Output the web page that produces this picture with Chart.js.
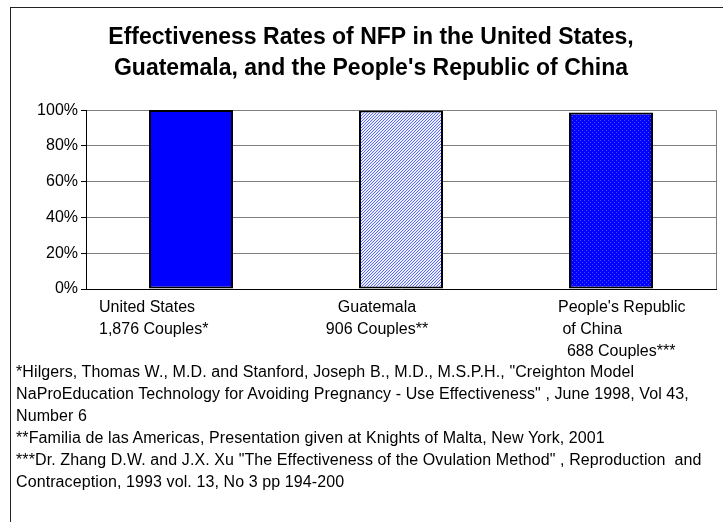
<!DOCTYPE html>
<html>
<head>
<meta charset="utf-8">
<script src="https://cdn.jsdelivr.net/npm/chart.js@4.4.1/dist/chart.umd.min.js"></script>
<style>
  body { margin: 0; width: 723px; height: 522px; overflow: hidden; position: relative; background: #fff; }
  #frame { position: absolute; left: 10px; top: 7px; width: 730px; height: 530px; border: 1px solid #222; }
  #c { position: absolute; left: 0; top: 0; }
  #notes { position: absolute; left: 16px; top: 361px; font: 16px/22px 'Liberation Sans', Arial, sans-serif; letter-spacing: 0.1px; color: #000; white-space: pre; }
</style>
</head>
<body>
<div id="frame"></div>
<canvas id="c" width="723" height="522"></canvas>
<div id="notes"></div>
<script>
// chart data
var titleLines = ['Effectiveness Rates of NFP in the United States,', "Guatemala, and the People's Republic of China"];
var categories = [
    ['United States', '1,876 Couples*'],
    ['Guatemala', '906 Couples**'],
    ["People's Republic", ' of China', '  688 Couples***']
];
var effectiveness = [100, 99.8, 98.6];
var yTicks = [0, 20, 40, 60, 80, 100];
var footnotes = [
    '*Hilgers, Thomas W., M.D. and Stanford, Joseph B., M.D., M.S.P.H., "Creighton Model',
    'NaProEducation Technology for Avoiding Pregnancy - Use Effectiveness" , June 1998, Vol 43,',
    'Number 6',
    '**Familia de las Americas, Presentation given at Knights of Malta, New York, 2001',
    '***Dr. Zhang D.W. and J.X. Xu "The Effectiveness of the Ovulation Method" , Reproduction  and',
    'Contraception, 1993 vol. 13, No 3 pp 194-200'
];

document.getElementById('notes').textContent = footnotes.join('\n');

var FONT = "'Liberation Sans', Arial, sans-serif";

// small fill patterns like the old Excel bars
function makePattern(size, draw) {
    var cv = document.createElement('canvas');
    cv.width = size; cv.height = size;
    var g = cv.getContext('2d');
    draw(g);
    return document.getElementById('c').getContext('2d').createPattern(cv, 'repeat');
}
var hatch = makePattern(3, function (g) {
    g.fillStyle = '#eef0ff'; g.fillRect(0, 0, 3, 3);
    g.fillStyle = '#5566ff';
    g.fillRect(0, 2, 1, 1); g.fillRect(1, 1, 1, 1); g.fillRect(2, 0, 1, 1);
});
var dots = makePattern(4, function (g) {
    g.fillStyle = '#0000ff'; g.fillRect(0, 0, 4, 4);
    g.fillStyle = '#4d4dff';
    g.fillRect(0, 0, 1, 1); g.fillRect(2, 2, 1, 1);
});

// category labels sit a bit off the bar centre, like the original
var labelAlign = ['left', 'center', 'left'];
var labelShift = [-92, -24, -53];

var categoryLabels = {
    id: 'categoryLabels',
    beforeDatasetsDraw: function (chart) {
        var a = chart.chartArea, ctx = chart.ctx;
        ctx.save();
        ctx.strokeStyle = '#808080';
        ctx.lineWidth = 1;
        ctx.beginPath();
        ctx.moveTo(Math.round(a.right) + 0.5, a.top);
        ctx.lineTo(Math.round(a.right) + 0.5, a.bottom);
        ctx.stroke();
        ctx.restore();
    },
    afterDraw: function (chart) {
        var ctx = chart.ctx, x = chart.scales.x, a = chart.chartArea;
        ctx.save();
        ctx.font = '16px ' + FONT;
        ctx.fillStyle = '#000';
        ctx.textBaseline = 'middle';
        categories.forEach(function (lines, i) {
            var px = x.getPixelForValue(i) + labelShift[i];
            ctx.textAlign = labelAlign[i];
            lines.forEach(function (t, j) {
                ctx.fillText(t, px, a.bottom + 19 + j * 22);
            });
        });
        ctx.restore();
    }
};

new Chart(document.getElementById('c'), {
    type: 'bar',
    data: {
        labels: categories.map(function (c) { return c.join(' '); }),
        datasets: [{
            data: effectiveness,
            backgroundColor: ['#0000ff', hatch, dots],
            borderColor: '#000',
            borderWidth: 2,
            borderSkipped: false,
            categoryPercentage: 1,
            barPercentage: 0.4
        }]
    },
    options: {
        responsive: false,
        animation: false,
        layout: { padding: { left: 26, right: 7, top: 0, bottom: 0 } },
        plugins: {
            legend: { display: false },
            tooltip: { enabled: false },
            title: {
                display: true,
                text: titleLines,
                color: '#000',
                font: { family: FONT, size: 23, weight: 'bold', lineHeight: 1.35 },
                padding: { top: 22, bottom: 26 }
            }
        },
        scales: {
            x: {
                grid: { display: false },
                border: { display: true, color: '#000', width: 1 },
                ticks: { display: false },
                afterFit: function (scale) { scale.height = 233; }
            },
            y: {
                min: 0,
                max: 100,
                afterBuildTicks: function (scale) {
                    scale.ticks = yTicks.map(function (v) { return { value: v }; });
                },
                grid: { color: '#808080', tickColor: '#000', tickLength: 5 },
                border: { display: true, color: '#000', width: 1 },
                ticks: {
                    color: '#000',
                    padding: 3,
                    font: { family: FONT, size: 16 },
                    callback: function (v) { return v + '%'; }
                },
                afterFit: function (scale) { scale.width = 60; }
            }
        }
    },
    plugins: [categoryLabels]
});
</script>
</body>
</html>
